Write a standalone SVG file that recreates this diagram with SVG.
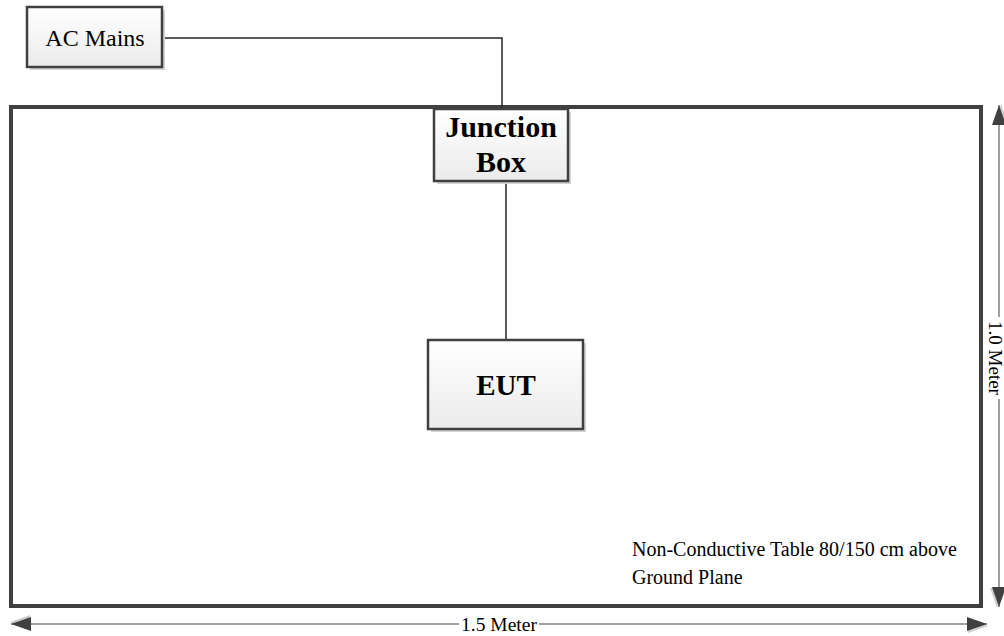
<svg xmlns="http://www.w3.org/2000/svg" width="1004" height="636" viewBox="0 0 1004 636">
<style>
.box{fill:url(#g);stroke:#404040;stroke-width:2.5}
.sh{fill:#d4d4d4}
.conn{fill:none;stroke:#262626;stroke-width:1.5}
.dim{fill:none;stroke:#404040;stroke-width:1}
.lbl{font-family:"Liberation Serif","Times New Roman",serif;fill:#000}
.b{font-weight:bold}
</style>
<defs>
<linearGradient id="g" x1="0" y1="0" x2="0" y2="1">
<stop offset="0" stop-color="#ffffff"/>
<stop offset="1" stop-color="#ebebeb"/>
</linearGradient>
<marker id="ah" markerUnits="userSpaceOnUse" markerWidth="22" markerHeight="16" refX="20" refY="7" orient="auto-start-reverse" viewBox="0 0 22 16">
<path d="M1,2 L21,9 L1,16 z" fill="#cfcfcf"/>
<path d="M0,0 L20,7 L0,14 z" fill="#404040"/>
</marker>
</defs>
<rect id="table" x="11" y="107" width="970" height="499" fill="#fff" stroke="#404040" stroke-width="4"/>
<g id="connectors">
<polyline class="conn" points="162,38 502,38 502,108"/>
<line class="conn" x1="506" y1="181" x2="506" y2="340"/>
<line class="dim" x1="11" y1="624" x2="459" y2="624" marker-start="url(#ah)"/>
<line class="dim" x1="539" y1="624" x2="987" y2="624" marker-end="url(#ah)"/>
<line class="dim" x1="999" y1="105" x2="999" y2="317" marker-start="url(#ah)"/>
<line class="dim" x1="999" y1="399" x2="999" y2="607" marker-end="url(#ah)"/>
</g>
<g id="ac-mains">
<rect class="sh" x="30" y="10" width="135" height="60"/>
<rect class="box" x="27" y="7" width="135" height="60"/>
<text class="lbl" x="95" y="46" font-size="24" text-anchor="middle">AC Mains</text>
</g>
<g id="junction-box">
<rect class="sh" x="437" y="112" width="134" height="72"/>
<rect class="box" x="434" y="109" width="134" height="72"/>
<text class="lbl b" x="501" y="137" font-size="30" text-anchor="middle">Junction</text>
<text class="lbl b" x="501" y="172" font-size="30" text-anchor="middle">Box</text>
</g>
<g id="eut">
<rect class="sh" x="431" y="343" width="155" height="89"/>
<rect class="box" x="428" y="340" width="155" height="89"/>
<text class="lbl b" x="506" y="395" font-size="29" text-anchor="middle">EUT</text>
</g>
<g id="labels">
<text class="lbl" x="632" y="556" font-size="20">Non-Conductive Table 80/150 cm above</text>
<text class="lbl" x="632" y="584" font-size="20">Ground Plane</text>
<text class="lbl" x="499" y="631" font-size="19.5" text-anchor="middle">1.5 Meter</text>
<text class="lbl" transform="translate(999,358) rotate(90)" x="0" y="10" font-size="19" text-anchor="middle">1.0 Meter</text>
</g>
</svg>
